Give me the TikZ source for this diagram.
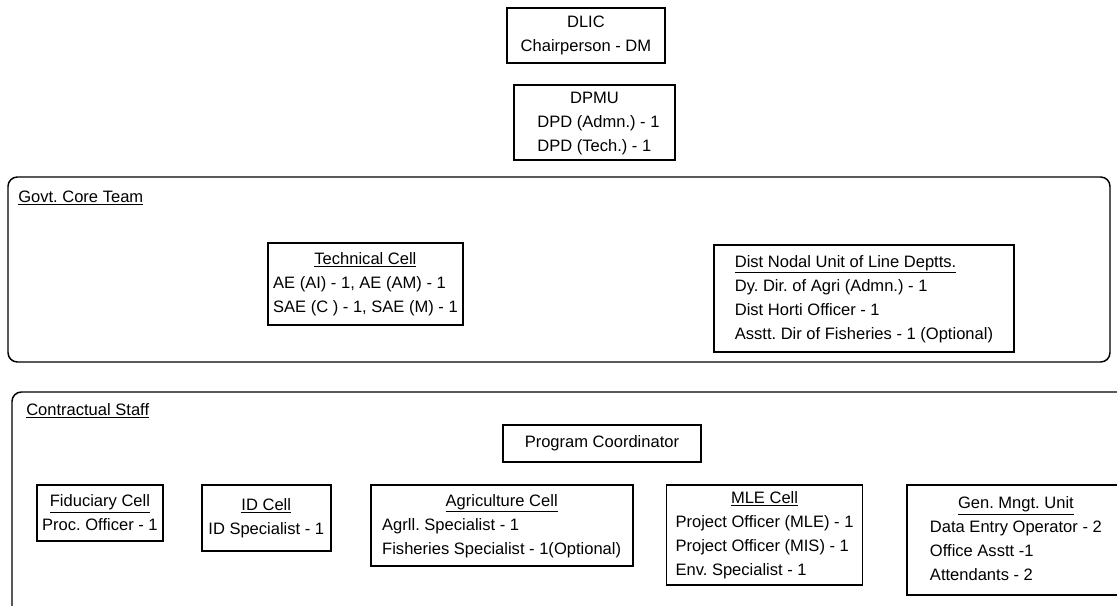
\documentclass[tikz,border=0pt]{standalone}
\usepackage{fontspec}
\setmainfont{Liberation Sans}
\usetikzlibrary{positioning}
\frenchspacing

\begin{document}
\begin{tikzpicture}[
    x=0.75pt, y=-0.75pt,
    every node/.style={font=\fontsize{12.4}{18}\selectfont},
    block/.style={rectangle, draw, line width=1.4pt, inner sep=0pt, anchor=north west, align=center},
    panel/.style={draw, line width=1.1pt, rounded corners=7pt},
    title/.style={anchor=base west, inner sep=0pt}
]
    \useasboundingbox (0,0) rectangle (1117,606);

    % top of the structure
    \node[block, minimum width=118.5pt, minimum height=41.25pt] (dlic) at (506,7) {DLIC\\Chairperson - DM};
    \node[block, minimum width=120.75pt, minimum height=56.25pt] (dpmu) at (513,84)
        {\begin{tabular}{@{}l@{}}\multicolumn{1}{@{}c@{}}{DPMU}\\ \hspace*{6pt}DPD (Admn.) - 1\\ \hspace*{6pt}DPD (Tech.) - 1\end{tabular}};

    % govt core team
    \draw[panel] (8,177) rectangle (1110,362);
    \node[title] (govt) at (18,202) {\underline{Govt. Core Team}};
    \node[block, minimum width=146.25pt, minimum height=61.5pt] (tech) at (267,242)
        {\begin{tabular}{@{}l@{}}\multicolumn{1}{@{}c@{}}{\underline{Technical Cell}}\\ AE (AI) - 1, AE (AM) - 1\\ SAE (C ) - 1, SAE (M) - 1\end{tabular}};
    \node[block, minimum width=225pt, minimum height=80.25pt] (nodal) at (713,244)
        {\begin{tabular}{@{}l@{}}\underline{Dist Nodal Unit of Line Deptts.}\\ Dy. Dir. of Agri (Admn.) - 1\\ Dist Horti Officer - 1\\ Asstt. Dir of Fisheries - 1 (Optional)\end{tabular}};

    % contractual staff
    \draw[panel] (12,612) -- (12,392) -- (1124,392);
    \node[title] (cont) at (26,415) {\underline{Contractual Staff}};
    \node[block, minimum width=148.5pt, minimum height=27.75pt] (pc) at (502,424) {Program Coordinator};

    \node[block, minimum width=94.5pt, minimum height=42pt] (fid) at (36,484)
        {\underline{Fiduciary Cell}\\ Proc. Officer - 1};
    \node[block, minimum width=96.75pt, minimum height=49.5pt, right=27.75pt of fid.north east, anchor=north west] (idc)
        {\underline{ID Cell}\\ ID Specialist - 1};
    \node[block, minimum width=196.5pt, minimum height=60.75pt, right=28.5pt of idc.north east, anchor=north west] (agri)
        {\begin{tabular}{@{}l@{}}\multicolumn{1}{@{}c@{}}{\underline{Agriculture Cell}}\\ Agrll. Specialist - 1\\ Fisheries Specialist - 1(Optional)\end{tabular}};
    \node[block, minimum width=147pt, minimum height=75pt, right=24pt of agri.north east, anchor=north west] (mle)
        {\begin{tabular}{@{}l@{}}\multicolumn{1}{@{}c@{}}{\underline{MLE Cell}}\\ Project Officer (MLE) - 1\\ Project Officer (MIS) - 1\\ Env. Specialist - 1\end{tabular}};
    \node[block, minimum width=162.75pt, minimum height=82.5pt, right=32.25pt of mle.north east, anchor=north west] (gmu)
        {\begin{tabular}{@{}l@{}}\multicolumn{1}{@{}c@{}}{\underline{Gen. Mngt. Unit}}\\ Data Entry Operator - 2\\ Office Asstt -1\\ Attendants - 2\end{tabular}};
\end{tikzpicture}
\end{document}
